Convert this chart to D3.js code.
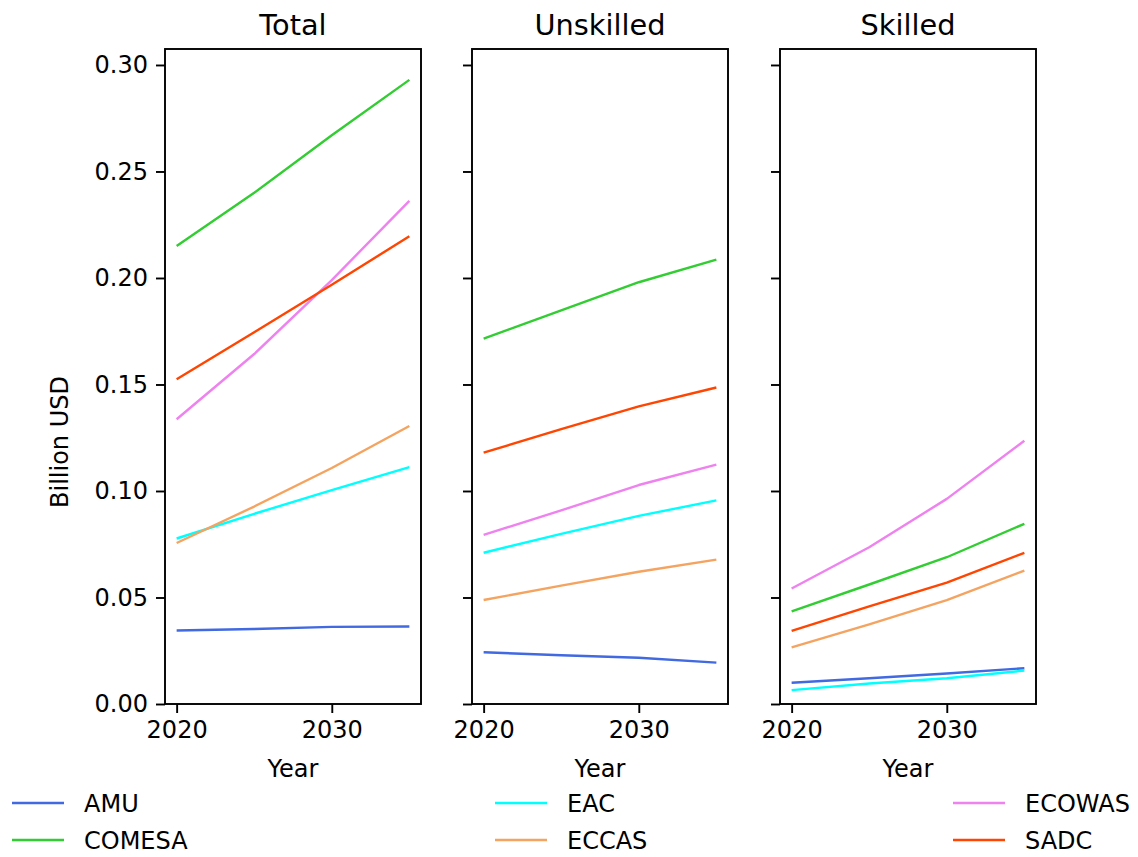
<!DOCTYPE html>
<html>
<head>
<meta charset="utf-8">
<script src="https://cdn.jsdelivr.net/npm/d3@7"></script>
<style>
  body { margin: 0; background: #fff; }
  svg { font-family: "DejaVu Sans", sans-serif; }
</style>
</head>
<body>
<div class="chart"></div>
<script>
// years on the x axis
var years = [2020, 2025, 2030, 2035];
var regions = ["AMU", "COMESA", "EAC", "ECCAS", "ECOWAS", "SADC"];
var colors = ["#4169e1", "#32cd32", "#00ffff", "#f4a460", "#ee82ee", "#ff4500"];
var panels = ["Total", "Unskilled", "Skilled"];
var yTicks = [0, 0.05, 0.10, 0.15, 0.20, 0.25, 0.30];
var xTicks = [2020, 2030];

// values, billion USD
var totalAMU    = [0.0345, 0.0352, 0.0362, 0.0364];
var totalCOMESA = [0.215, 0.240, 0.267, 0.293];
var totalEAC    = [0.0777, 0.0893, 0.1004, 0.1112];
var totalECCAS  = [0.0756, 0.0927, 0.1108, 0.1305];
var totalECOWAS = [0.1337, 0.1643, 0.1990, 0.2362];
var totalSADC   = [0.1525, 0.1745, 0.1968, 0.2196];

var unskAMU    = [0.0243, 0.0229, 0.0217, 0.0194];
var unskCOMESA = [0.1715, 0.1848, 0.1980, 0.2086];
var unskEAC    = [0.0710, 0.0799, 0.0883, 0.0956];
var unskECCAS  = [0.0488, 0.0556, 0.0621, 0.0678];
var unskECOWAS = [0.0794, 0.0909, 0.1028, 0.1124];
var unskSADC   = [0.1180, 0.1290, 0.1397, 0.1486];

var skAMU    = [0.0100, 0.0121, 0.0143, 0.0168];
var skCOMESA = [0.0435, 0.0561, 0.0689, 0.0846];
var skEAC    = [0.0065, 0.0096, 0.0121, 0.0157];
var skECCAS  = [0.0266, 0.0374, 0.0488, 0.0626];
var skECOWAS = [0.0542, 0.0736, 0.0963, 0.1236];
var skSADC   = [0.0343, 0.0458, 0.0570, 0.0710];

var panelData = [
  [totalAMU, totalCOMESA, totalEAC, totalECCAS, totalECOWAS, totalSADC],
  [unskAMU, unskCOMESA, unskEAC, unskECCAS, unskECOWAS, unskSADC],
  [skAMU, skCOMESA, skEAC, skECCAS, skECOWAS, skSADC]
];

var w = 1138, h = 857;
var plotTop = 49, plotBottom = 704;
var panelLeft = [165, 472, 780];
var panelW = 256;
var fs = 24;

var svg = d3.select("div.chart").append("svg")
  .attr("width", w).attr("height", h)
  .attr("viewBox", `0 0 ${w} ${h}`);

var y = d3.scaleLinear().domain([0, 0.3075]).range([plotBottom, plotTop]);

panels.forEach(function(name, p){
  var x = d3.scaleLinear().domain([2019.25, 2035.75]).range([panelLeft[p], panelLeft[p] + panelW]);
  var g = svg.append("g");

  var line = d3.line()
    .x(function(d, i){ return x(years[i]); })
    .y(function(d){ return y(d); });

  panelData[p].forEach(function(series, i){
    g.append("path")
      .attr("d", line(series))
      .attr("fill", "none")
      .attr("stroke", colors[i])
      .attr("stroke-width", 2.4)
      .attr("stroke-linejoin", "round");
  });

  //axes
  var yAxis = d3.axisLeft(y).tickValues(yTicks).tickSize(9).tickPadding(8)
    .tickFormat(p == 0 ? d3.format(".2f") : "");
  var xAxis = d3.axisBottom(x).tickValues(xTicks).tickSize(9).tickPadding(6)
    .tickFormat(d3.format("d"));

  var ya = g.append("g").attr("transform", `translate(${panelLeft[p]},0)`).call(yAxis);
  var xa = g.append("g").attr("transform", `translate(0,${plotBottom})`).call(xAxis);
  [ya, xa].forEach(function(a){
    a.select(".domain").remove();
    a.selectAll("line").attr("stroke", "#000").attr("stroke-width", 1.9);
    a.selectAll("text").attr("fill", "#000").style("font-size", fs + "px")
      .style("font-family", "DejaVu Sans, sans-serif");
  });
  xa.selectAll("text").attr("dy", "0.8em");

  // frame
  g.append("rect")
    .attr("x", panelLeft[p]).attr("y", plotTop)
    .attr("width", panelW).attr("height", plotBottom - plotTop)
    .attr("fill", "none").attr("stroke", "#000").attr("stroke-width", 1.9);

  g.append("text")
    .attr("x", panelLeft[p] + panelW / 2).attr("y", 35)
    .attr("text-anchor", "middle").style("font-size", "28.8px")
    .text(name);

  g.append("text")
    .attr("x", panelLeft[p] + panelW / 2).attr("y", 777)
    .attr("text-anchor", "middle").style("font-size", fs + "px")
    .text("Year");
});

svg.append("text")
  .attr("transform", "translate(68,442) rotate(-90)")
  .attr("text-anchor", "middle").style("font-size", fs + "px")
  .text("Billion USD");

// legend, three columns of two
var legendX = [12, 495, 953];
var legendY = [803, 840];
regions.forEach(function(r, i){
  var col = Math.floor(i / 2), row = i % 2;
  var lg = svg.append("g").attr("transform", `translate(${legendX[col]},${legendY[row]})`);
  lg.append("line").attr("x1", 0).attr("x2", 52).attr("y1", 0).attr("y2", 0)
    .attr("stroke", colors[i]).attr("stroke-width", 2.4);
  lg.append("text").attr("x", 72).attr("y", 0).attr("dy", "0.36em")
    .style("font-size", fs + "px").text(r);
});
</script>
</body>
</html>
